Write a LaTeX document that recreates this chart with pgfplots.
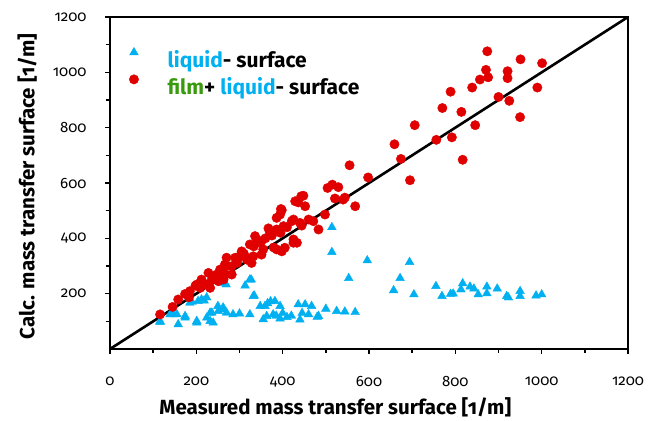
\documentclass[border=0pt]{standalone}
\usepackage{fontspec}
\setmainfont{Fira Sans}[Numbers=OldStyle]
\usepackage{pgfplots}
\pgfplotsset{compat=1.18}

\definecolor{liqblue}{RGB}{0,176,240}
\definecolor{filmred}{RGB}{224,0,0}
\definecolor{filmgreen}{RGB}{58,154,14}

\begin{document}
\begin{tikzpicture}
\begin{axis}[
  name=main,
  scale only axis,
  width=518pt, height=332pt,
  xmin=0, xmax=1200, ymin=0, ymax=1200,
  xtick={0,200,...,1200},
  ytick={200,400,...,1200},
  minor xtick={100,300,...,1100},
  minor ytick={100,300,...,1100},
  xtick pos=bottom, ytick pos=left,
  tick align=outside,
  major tick length=5pt, minor tick length=4pt,
  every tick/.style={black, line width=1.4pt},
  axis line style={black, line width=2.2pt},
  /pgf/number format/assume math mode=true,
  /pgf/number format/1000 sep={},
  tick label style={font=\fontsize{15}{17}\selectfont},
  xticklabel style={yshift=-19pt},
  yticklabel style={xshift=-15pt},
  xlabel={Measured mass transfer surface [1/m]},
  ylabel={Calc. mass transfer surface [1/m]},
  every axis x label/.style={at={(axis description cs:0.435,-0.176)}, anchor=center,
    font=\bfseries\fontsize{20.5}{22}\selectfont},
  every axis y label/.style={at={(axis description cs:-0.16,0.49)}, rotate=90, anchor=center,
    font=\bfseries\fontsize{20.5}{22}\selectfont},
  legend style={at={(axis description cs:0.031,0.915)}, anchor=north west,
    draw=none, fill=none, font=\bfseries\fontsize{21}{23}\selectfont,
    row sep=4pt, column sep=27pt},
  legend image post style={yshift=7pt},
  legend cell align=left,
]

% liquid-surface model
\addplot[only marks, mark=triangle*, mark size=5pt, color=liqblue] coordinates {
(116,97) (116,101) (139,125) (147,125) (155,125) (158,89) (174,113) (174,119)
(185,167) (190,170) (201,95) (201,101) (204,173) (212,179) (218,175) (224,186)
(224,113) (232,131) (232,101) (236,131) (239,95) (250,155) (251,137) (262,150)
(263,143) (266,239) (269,233) (270,131) (285,125) (300,128) (313,229) (324,125)
(324,251) (327,251) (332,191) (334,193) (348,155) (355,107) (359,155) (363,119)
(365,165) (372,172) (378,125) (382,173) (385,120) (394,155) (394,110) (400,130)
(410,115) (420,120) (436,161) (440,106) (445,130) (452,161) (460,125) (467,155)
(480,116) (483,119) (500,145) (514,350) (514,440) (525,137) (544,135) (553,256)
(568,133) (596,320) (657,212) (672,256) (694,314) (704,197) (755,227) (769,191)
(789,199) (795,200) (813,215) (817,237) (834,225) (843,218) (853,197) (873,225)
(873,201) (897,218) (919,191) (923,186) (950,209) (950,191) (987,193) (1000,197)
};
\addlegendentry{\textcolor{liqblue}{liquid}- surface}

% film + liquid-surface model
\addplot[only marks, mark=*, mark size=4.7pt, color=filmred] coordinates {
(116,125) (145,152) (158,179) (174,199) (183,187) (185,209) (198,229) (201,233)
(209,221) (212,241) (212,251) (224,233) (228,275) (232,221) (236,251) (243,262)
(247,269) (251,245) (255,287) (263,251) (263,263) (266,269) (266,305) (270,299)
(270,330) (282,269) (282,299) (294,311) (294,317) (301,335) (305,353) (317,323)
(317,329) (324,378) (328,311) (332,335) (333,371) (336,408) (343,385) (351,341)
(351,390) (355,360) (367,436) (371,420) (379,367) (386,360) (386,432) (386,474)
(394,486) (396,506) (398,353) (398,502) (402,444) (405,366) (421,462) (425,384)
(425,396) (425,468) (429,534) (433,384) (436,530) (440,456) (443,552) (444,446)
(448,554) (452,516) (460,468) (471,462) (483,432) (498,486) (504,582) (515,594)
(521,544) (529,585) (540,540) (544,547) (555,664) (568,516) (598,620) (659,740)
(674,687) (695,610) (706,809) (756,756) (770,871) (789,930) (792,765) (814,857)
(817,684) (839,945) (846,809) (857,974) (871,1009) (874,1076) (876,982) (900,911)
(921,1004) (921,979) (925,897) (950,838) (951,1047) (990,945) (1001,1033)
(340,395) (310,345) (290,330) (360,400) (375,410) (395,420) (410,440)
};
\addlegendentry{\textcolor{filmgreen}{film}+ \textcolor{liqblue}{liquid}- surface}

% 1:1 line
\addplot[black, line width=2.6pt, forget plot] coordinates {(0,0) (1200,1200)};
\end{axis}
\pgfresetboundingbox
\path ([shift={(-110pt,-71.5pt)}]main.south west) rectangle ([shift={(21pt,17pt)}]main.north east);
\end{tikzpicture}
\end{document}
